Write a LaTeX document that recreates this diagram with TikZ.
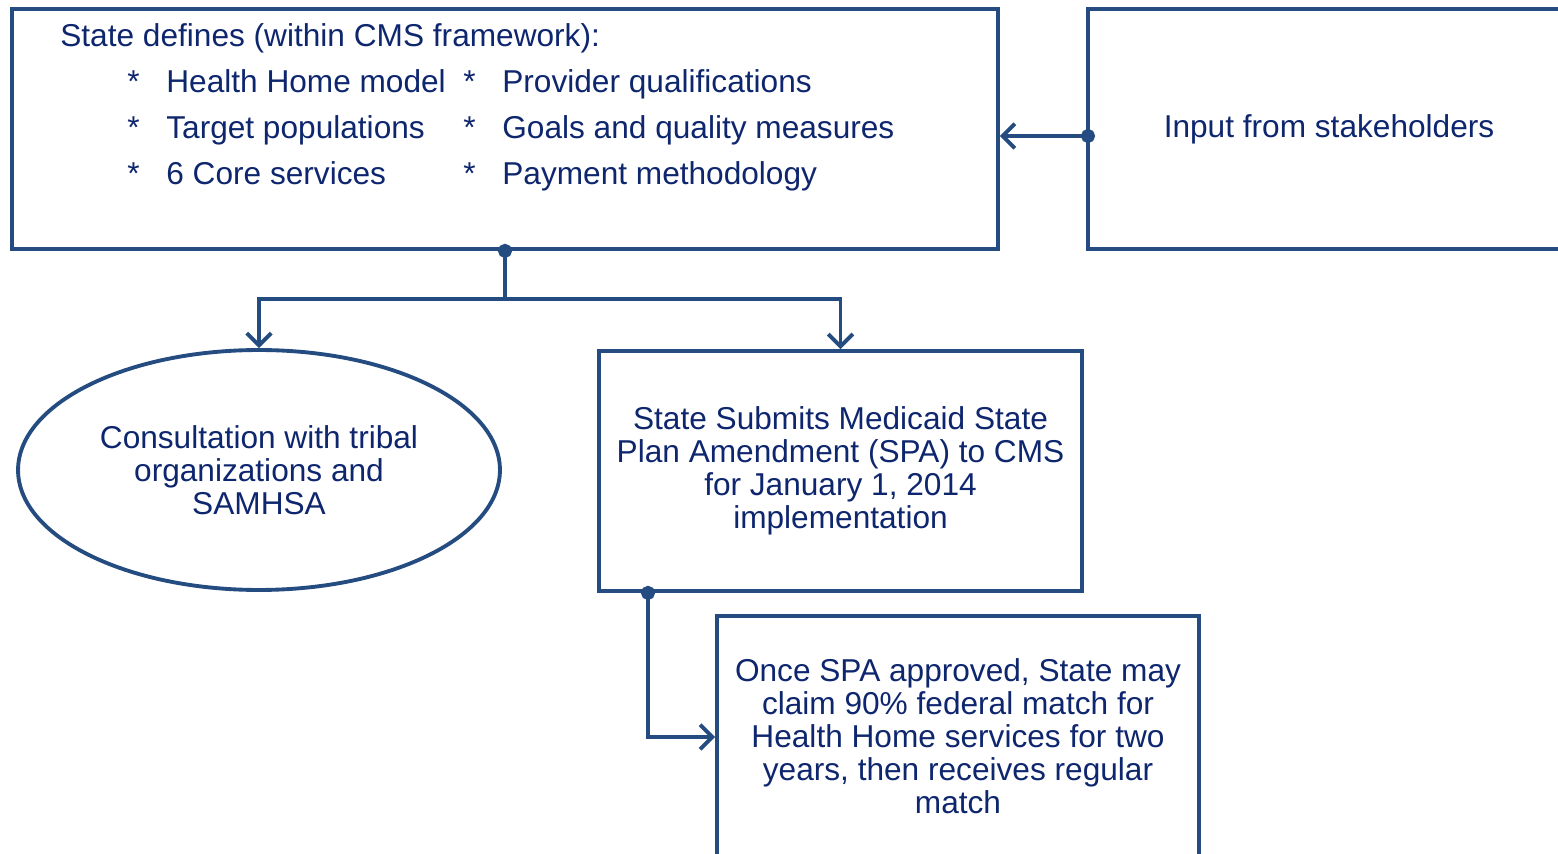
\documentclass[tikz,border=0pt]{standalone}
\usepackage{fontspec}
\setmainfont{Liberation Sans}
\usetikzlibrary{shapes.geometric,arrows.meta}
\definecolor{hhline}{RGB}{36,76,128}
\definecolor{hhtext}{RGB}{14,38,110}
\tikzset{
  box/.style={draw=hhline, line width=2.2pt, rectangle, inner sep=0pt,
    text=hhtext, align=center, font=\fontsize{18}{18.8}\selectfont},
  oval/.style={box, ellipse},
  txt/.style={text=hhtext, inner sep=0pt, font=\fontsize{18}{18.8}\selectfont},
  conn/.style={draw=hhline, line width=2.2pt},
  tip/.style={-{Straight Barb[length=7pt,width=14pt,line width=2.2pt]}},
  dotted start/.style={{Circle[length=8pt]}-, shorten <=-4pt},
  dotarrow/.style={{Circle[length=8pt]}-{Straight Barb[length=7pt,width=14pt,line width=2.2pt]}, shorten <=-4pt}
}
\begin{document}
\begin{tikzpicture}[x=0.02cm,y=-0.02cm]
        \clip (0,0) rectangle (1558,854);
        \useasboundingbox (0,0) rectangle (1558,854);

        % boxes
        \node[box, minimum width=19.72cm, minimum height=4.8cm] (state) at (505,129) {};
        \node[box, minimum width=9.64cm, minimum height=4.8cm] (input) at (1329,129) {Input from stakeholders};
        \node[oval, minimum width=9.64cm, minimum height=4.8cm] (consult) at (259,470)
            {Consultation with tribal\\organizations and\\SAMHSA};
        \node[box, minimum width=9.66cm, minimum height=4.8cm] (spa) at (840.5,471)
            {State Submits Medicaid State\\Plan Amendment (SPA) to CMS\\for January 1, 2014\\implementation};
        \node[box, minimum width=9.64cm, minimum height=4.8cm] (claim) at (958,736)
            {Once SPA approved, State may\\claim 90\% federal match for\\Health Home services for two\\years, then receives regular\\match};

        % text of the first box
        \node[txt, anchor=base west] (title) at (60,47) {State defines (within CMS framework):};
        \node[txt, anchor=base west] (s1) at (127,93) {*};
        \node[txt, anchor=base west] (model) at (166,93) {Health Home model};
        \node[txt, anchor=base west] (s2) at (127,139) {*};
        \node[txt, anchor=base west] (target) at (166,139) {Target populations};
        \node[txt, anchor=base west] (s3) at (127,185) {*};
        \node[txt, anchor=base west] (core) at (166,185) {6 Core services};
        \node[txt, anchor=base west] (s4) at (463,93) {*};
        \node[txt, anchor=base west] (provider) at (502,93) {Provider qualifications};
        \node[txt, anchor=base west] (s5) at (463,139) {*};
        \node[txt, anchor=base west] (goals) at (502,139) {Goals and quality measures};
        \node[txt, anchor=base west] (s6) at (463,185) {*};
        \node[txt, anchor=base west] (payment) at (502,185) {Payment methodology};

        % connectors
        \coordinate (feed) at (1088,136);
        \coordinate (split) at (505,299);
        \coordinate (bend) at (648,737);
        \draw[conn, dotarrow] (feed) -- (state.east |- feed);
        \draw[conn, dotted start] (state.south) -- (split);
        \draw[conn, tip] (split) -| (consult.north);
        \draw[conn, tip] (split) -| (spa.north);
        \draw[conn, dotarrow] (spa.south -| bend) -- (bend) -- (claim.west |- bend);

\end{tikzpicture}
\end{document}
